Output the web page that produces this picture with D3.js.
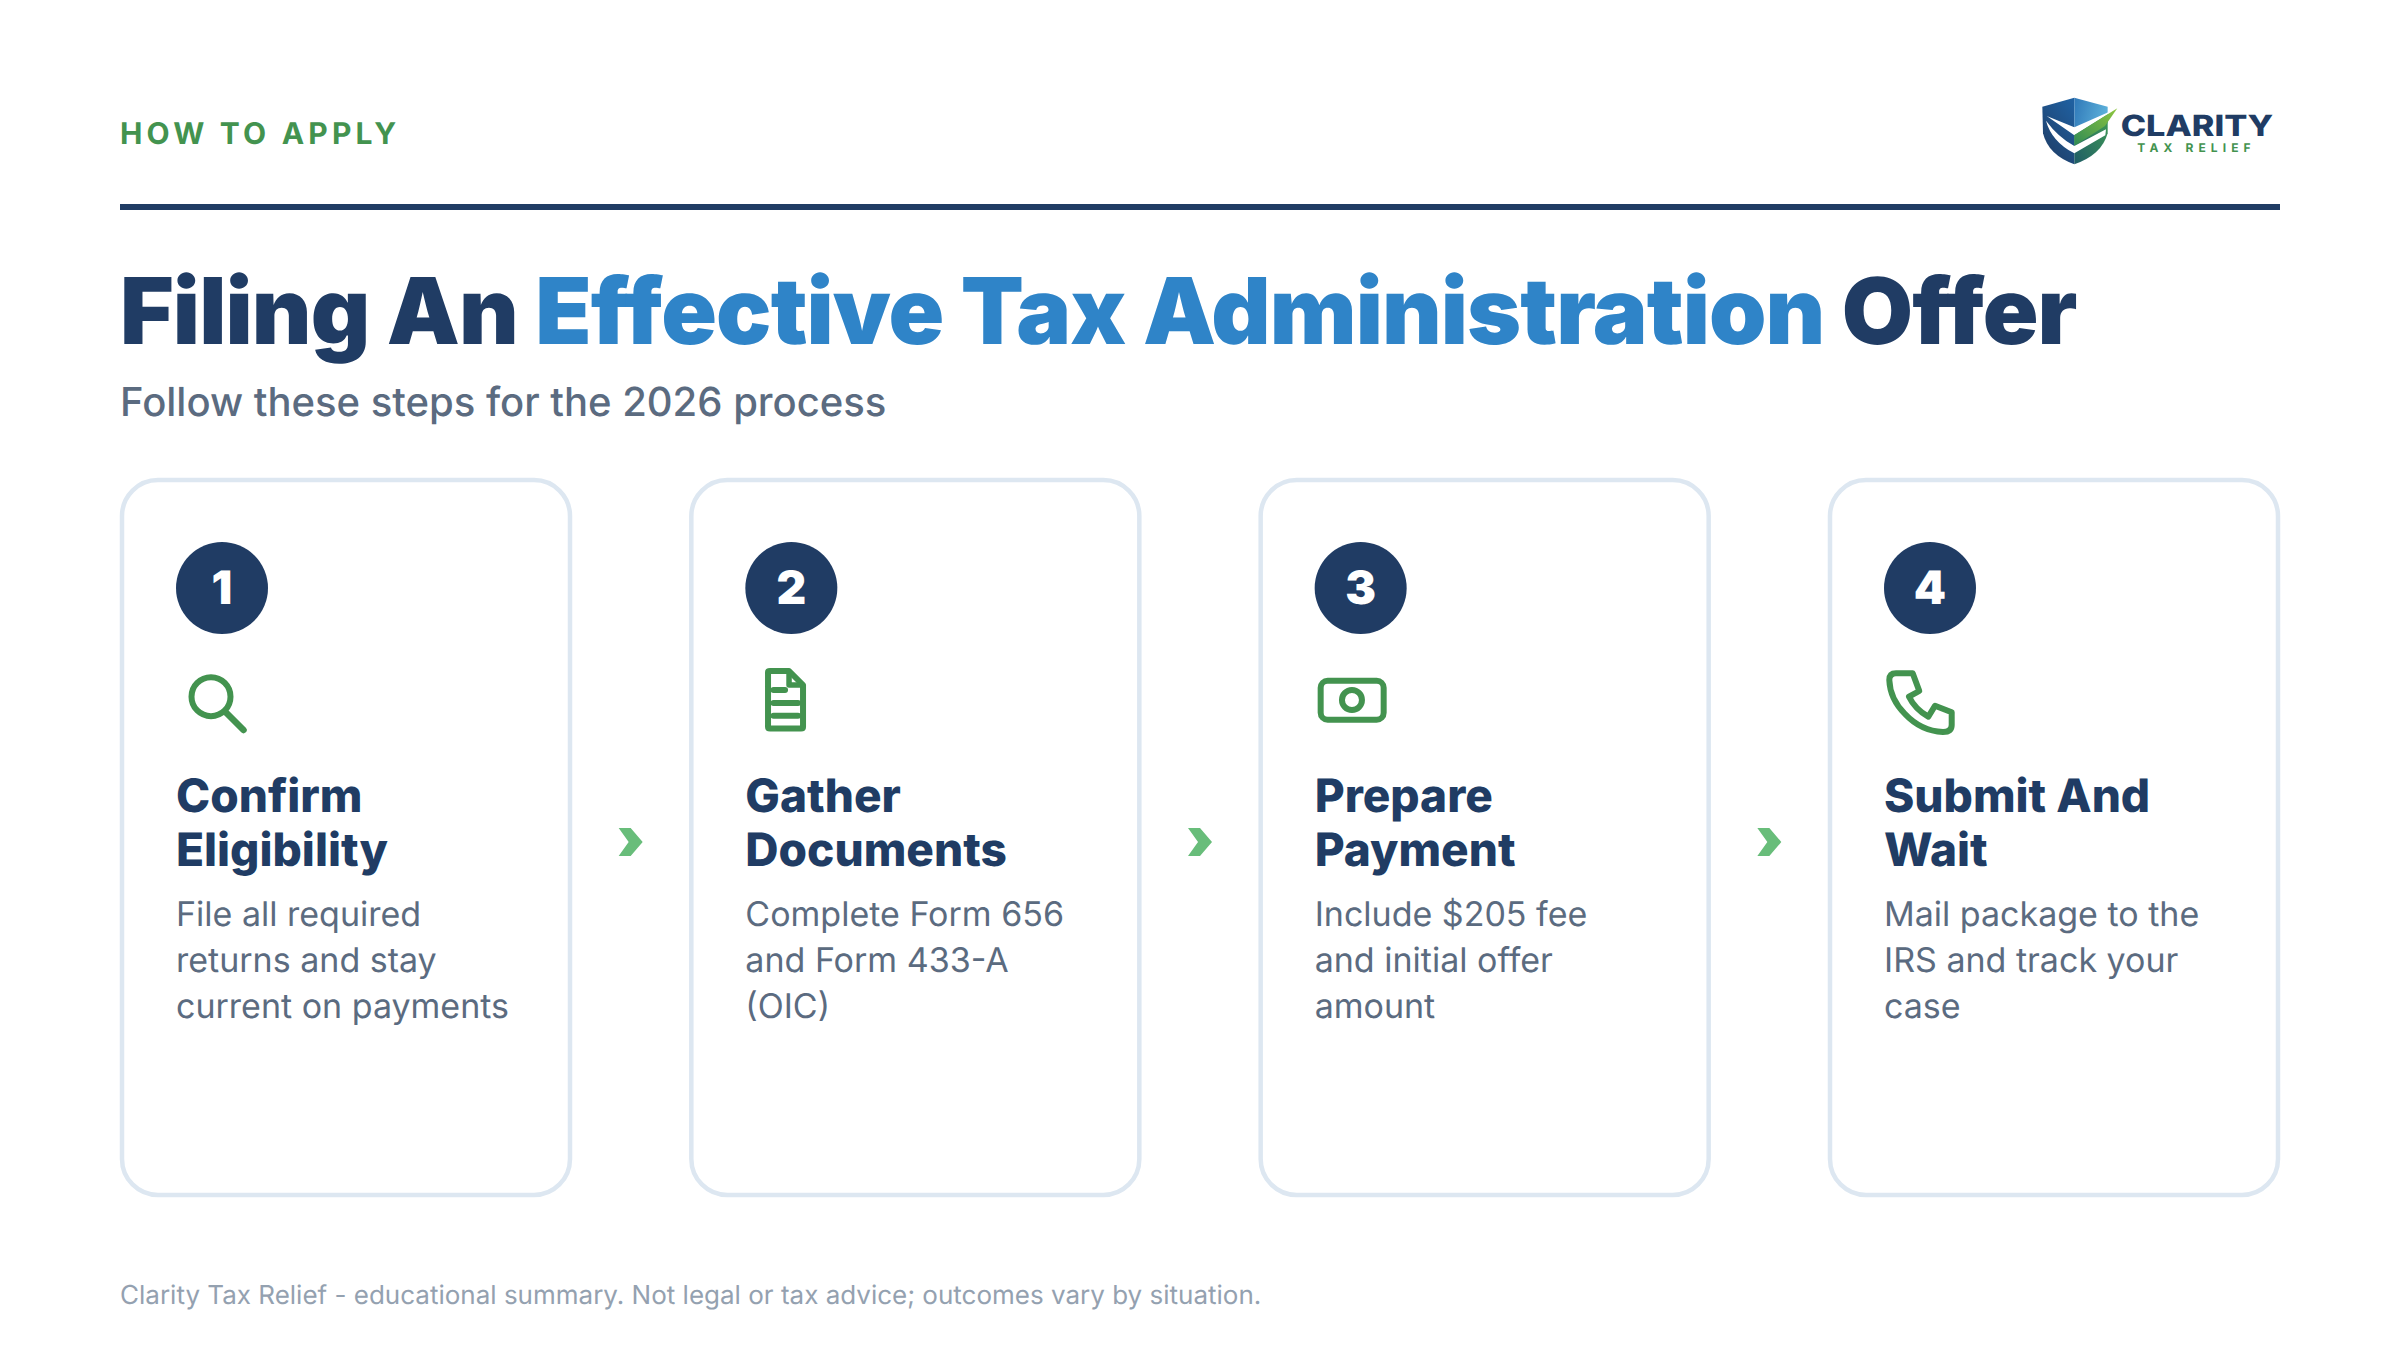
<!DOCTYPE html>
<html>
<head>
<meta charset="utf-8">
<title>Filing An Effective Tax Administration Offer</title>
<script src="https://cdn.jsdelivr.net/npm/d3@7"></script>
<style>
  html, body { margin: 0; padding: 0; background: #fff; }
  text { font-family: Inter, "Noto Sans", sans-serif; text-rendering: geometricPrecision; }
</style>
</head>
<body>
<div id="chart"></div>
<script>
const eyebrow = "HOW TO APPLY";
const titleParts = ["Filing An ", "Effective Tax Administration", " Offer"];
const subtitle = "Follow these steps for the 2026 process";
const footnote = "Clarity Tax Relief - educational summary. Not legal or tax advice; outcomes vary by situation.";

const stepNumbers = ["1", "2", "3", "4"];
const stepTitles = [
  ["Confirm", "Eligibility"],
  ["Gather", "Documents"],
  ["Prepare", "Payment"],
  ["Submit And", "Wait"]
];
const stepBodies = [
  ["File all required", "returns and stay", "current on payments"],
  ["Complete Form 656", "and Form 433-A", "(OIC)"],
  ["Include $205 fee", "and initial offer", "amount"],
  ["Mail package to the", "IRS and track your", "case"]
];
const stepIcons = ["search", "doc", "money", "phone"];

const width = 2400;
const height = 1350;
const navy = "#203c64";
const blue = "#2f84c8";
const green = "#43934f";
const slate = "#5b6b80";

const svg = d3.select("#chart")
  .append("svg")
  .attr("width", width)
  .attr("height", height)
  .style("display", "block");

// gradients for the logo
const defs = svg.append("defs");
function gradient(id, x1, y1, x2, y2, from, to) {
  const g = defs.append("linearGradient").attr("id", id)
    .attr("x1", x1).attr("y1", y1).attr("x2", x2).attr("y2", y2);
  g.append("stop").attr("offset", 0).attr("stop-color", from);
  g.append("stop").attr("offset", 1).attr("stop-color", to);
}
gradient("capRight", 0, 0, 1, 0.3, "#2f78b8", "#5cb0da");
gradient("shieldLeft", 0.8, 0, 0.2, 1, "#1f5f9f", "#1f3d66");
gradient("sideRight", 0, 1, 1, 0, "#1f5c66", "#3f9a55");
gradient("check", 0, 1, 1, 0, "#2f8a55", "#8fc63e");

// header
svg.append("text")
  .attr("x", 120).attr("y", 144)
  .attr("fill", green)
  .attr("font-size", 30).attr("font-weight", 700)
  .attr("letter-spacing", 4.2)
  .text(eyebrow);

svg.append("rect")
  .attr("x", 120).attr("y", 204)
  .attr("width", 2160).attr("height", 6)
  .attr("fill", navy);

const title = svg.append("text")
  .attr("x", 120).attr("y", 344)
  .attr("fill", navy)
  .attr("font-size", 92).attr("font-weight", 900)
  .attr("letter-spacing", -0.9)
  .attr("xml:space", "preserve")
  .style("white-space", "pre");
title.selectAll("tspan")
  .data(titleParts)
  .join("tspan")
  .attr("fill", (d, i) => i === 1 ? blue : navy)
  .text(d => d);

svg.append("text")
  .attr("x", 120).attr("y", 416)
  .attr("fill", slate)
  .attr("font-size", 40).attr("font-weight", 500)
  .text(subtitle);

// logo shield, drawn in the coordinates of a 3x crop
const shield = svg.append("g")
  .attr("transform", "translate(2030,90) scale(0.3333)");
shield.append("path").attr("fill", "url(#shieldLeft)")
  .attr("d", "M133 23 L37 50 L39 130 Q55 195 133 223 Z");
shield.append("path").attr("fill", "url(#capRight)")
  .attr("d", "M133 23 L233 50 L233 100 L133 140 Z");
shield.append("path").attr("fill", "url(#sideRight)")
  .attr("d", "M133 135 L233 73 L233 130 Q215 195 133 223 Z");
shield.append("path").attr("fill", "#fff")
  .attr("d", "M50 78 L133 112 L262 55 L133 136 Z");
shield.append("path").attr("fill", "url(#check)")
  .attr("d", "M262 55 L133 135 L133 168 L225 108 Z");
shield.append("path").attr("fill", "#fff")
  .attr("d", "M48 92 Q85 142 133 168 L228 118 L226 136 L133 190 Q65 155 48 92 Z");

const logoText = svg.append("g")
  .attr("transform", "translate(2000,70) scale(0.3333)");
logoText.append("text")
  .attr("x", 362).attr("y", 198)
  .attr("fill", navy)
  .attr("font-size", 88).attr("font-weight", 800)
  .attr("textLength", 458).attr("lengthAdjust", "spacingAndGlyphs")
  .text("CLARITY");
logoText.append("text")
  .attr("x", 412).attr("y", 245)
  .attr("fill", green)
  .attr("font-size", 36).attr("font-weight", 700)
  .attr("textLength", 340)
  .text("TAX RELIEF");

// cards
const x = d3.scaleBand()
  .domain(stepNumbers)
  .range([120, 2280])
  .paddingInner(117.33 / 569.33);

const cardTop = 478;
const cardBottom = 1197;

const card = svg.selectAll("g.card")
  .data(stepNumbers)
  .join("g")
  .attr("class", "card")
  .attr("transform", d => `translate(${x(d)},${cardTop})`);

card.append("rect")
  .attr("x", 2).attr("y", 2)
  .attr("width", x.bandwidth() - 4)
  .attr("height", cardBottom - cardTop - 4)
  .attr("rx", 36)
  .attr("fill", "#fff")
  .attr("stroke", "#dde7f1")
  .attr("stroke-width", 4.5);

card.append("circle")
  .attr("cx", 102).attr("cy", 110).attr("r", 46)
  .attr("fill", navy);

card.append("text")
  .attr("x", 102).attr("y", 126)
  .attr("text-anchor", "middle")
  .attr("fill", "#fff")
  .attr("font-size", 46).attr("font-weight", 900)
  .text(d => d);

// icons sit in a box that starts at the text column
const icon = card.append("g")
  .attr("transform", "translate(56,186)")
  .attr("fill", "none")
  .attr("stroke", green)
  .attr("stroke-width", 6)
  .attr("stroke-linecap", "round")
  .attr("stroke-linejoin", "round");

icon.each(function (d, i) {
  const g = d3.select(this);
  const kind = stepIcons[i];
  if (kind === "search") {
    g.append("circle").attr("cx", 35).attr("cy", 32.7).attr("r", 19.5);
    g.append("path").attr("d", "M50.5 49 L67.5 66").attr("stroke-width", 6.5);
  } else if (kind === "doc") {
    g.attr("transform", "translate(56.7,186)");
    g.append("path")
      .attr("d", "M22 8 Q22 7 24 7 L43 7 L57 21 L57 63 Q57 64.5 55 64.5 L24 64.5 Q22 64.5 22 63 Z");
    g.append("path").attr("stroke-width", 5.5).attr("d", "M43 8 L43 21 L56 21");
    g.append("path").attr("d", "M27.5 26 L39 26 M27.5 39 L52 39 M27.5 51.7 L52 51.7");
  } else if (kind === "money") {
    g.attr("transform", "translate(57.3,186)");
    g.append("rect")
      .attr("x", 4.7).attr("y", 16.7)
      .attr("width", 63).attr("height", 39).attr("rx", 7);
    g.append("circle").attr("cx", 36).attr("cy", 36).attr("r", 10);
  } else {
    g.attr("transform", "translate(58,186)");
    g.append("path")
      .attr("d", "M3.3 16 Q3.3 9.3 10 9.3 L26.7 9.3 L33.3 27 L23 32.7 Q29 45 42.3 52.7 L49 41.7 L65.7 48.3 L65.7 61 Q65.7 68 57 68 Q35 67 19 50 Q4 35 3.3 16 Z");
  }
});

// card headings
card.each(function (d, i) {
  d3.select(this).selectAll("text.head")
    .data(stepTitles[i])
    .join("text")
    .attr("class", "head")
    .attr("x", 56)
    .attr("y", (t, j) => 334 + j * 54)
    .attr("fill", navy)
    .attr("font-size", 46).attr("font-weight", 800)
    .text(t => t);

  d3.select(this).selectAll("text.body")
    .data(stepBodies[i])
    .join("text")
    .attr("class", "body")
    .attr("x", 56)
    .attr("y", (t, j) => 448 + j * 46)
    .attr("fill", slate)
    .attr("font-size", 34).attr("font-weight", 400)
    .text(t => t);
});

// arrows between the cards
svg.selectAll("path.chevron")
  .data(stepNumbers.slice(0, -1))
  .join("path")
  .attr("class", "chevron")
  .attr("transform", d => `translate(${x(d) + x.bandwidth() + 58.67},842)`)
  .attr("d", "M-12 -14 L0 -14 L12 0 L0 14 L-12 14 L-2 0 Z")
  .attr("fill", "#68bd7a");

svg.append("text")
  .attr("x", 120).attr("y", 1304)
  .attr("fill", "#94a1b0")
  .attr("font-size", 26).attr("font-weight", 400)
  .text(footnote);
</script>
</body>
</html>
